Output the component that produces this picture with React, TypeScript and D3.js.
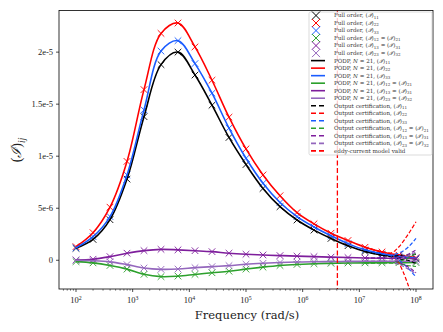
import * as d3 from 'd3';
import React, { useRef, useEffect } from 'react';

// frequencies of the full order / POD snapshots (rad/s)
const freqs = [100, 200, 398, 794, 1585, 3162, 6310, 12589, 25119, 50119, 1e5, 199526,
  398107, 794328, 1584893, 3162278, 6309573, 12589254, 25118864, 50118723, 1e8];

// tensor coefficients, in units of 1e-6
const i11 = [1.15, 2.0, 3.9, 7.8, 13.8, 18.8, 20.0, 17.8, 14.9, 11.8, 9.2, 6.9, 5.15, 3.87, 2.9, 2.1, 1.4, 0.85, 0.5, 0.3, 0.15];
const i22 = [1.31, 2.65, 5.1, 9.5, 16.4, 21.8, 22.8, 20.5, 17.3, 13.75, 10.7, 8.2, 6.2, 4.58, 3.5, 2.6, 1.9, 1.25, 0.8, 0.5, 0.25];
const i33 = [1.2, 2.27, 4.2, 8.2, 14.45, 20.1, 21.1, 18.9, 16.05, 12.7, 9.8, 7.4, 5.55, 4.2, 3.2, 2.35, 1.6, 1.0, 0.62, 0.38, 0.2];
const i12 = [-0.13, -0.25, -0.5, -0.85, -1.35, -1.57, -1.52, -1.36, -1.2, -1.05, -0.85, -0.66, -0.5, -0.4, -0.33, -0.29, -0.26, -0.25, -0.24, -0.23, -0.22];
const i13 = [0.03, 0.1, 0.35, 0.68, 0.93, 1.05, 1.0, 0.92, 0.83, 0.68, 0.58, 0.51, 0.45, 0.4, 0.35, 0.3, 0.26, 0.22, 0.2, 0.18, 0.15];
const i23 = [0.0, -0.04, -0.15, -0.42, -0.74, -0.87, -0.84, -0.71, -0.61, -0.51, -0.38, -0.29, -0.22, -0.17, -0.14, -0.12, -0.11, -0.1, -0.1, -0.1, -0.1];

// output certification bounds (upper / lower), 1e-6
const certFreqs = [12589254, 25118864, 35481339, 50118723, 70794578, 1e8];
const cert11 = [[0.85, 0.5, 0.4, 0.45, 0.5, 0.6], [0.85, 0.5, 0.35, 0.15, 0.0, -0.3]];
const cert22 = [[1.25, 0.8, 0.7, 1.3, 2.4, 3.7], [1.25, 0.8, 0.55, -0.3, -2.2, -4.8]];
const cert33 = [[1.0, 0.62, 0.5, 0.7, 1.2, 2.1], [1.0, 0.62, 0.45, 0.0, -0.7, -1.6]];
const cert12 = [[-0.25, -0.24, -0.23, -0.1, 0.2, 0.67], [-0.25, -0.24, -0.25, -0.35, -0.5, -0.6]];
const cert13 = [[0.22, 0.2, 0.19, 0.3, 0.55, 1.0], [0.22, 0.2, 0.15, -0.2, -0.6, -1.2]];
const cert23 = [[-0.1, -0.1, -0.1, 0.1, 0.4, 0.8], [-0.1, -0.1, -0.12, -0.4, -0.8, -1.3]];

const eddyLimit = 4.1e6;

const compSubs = [['11'], ['22'], ['33'], ['12', '21'], ['13', '31'], ['23', '32']];
const compColors = ['#000000', '#ff0000', '#1a5cff', '#2ca02c', '#7e1e9c', '#9467bd'];
const compValues = [i11, i22, i33, i12, i13, i23];
const compCert = [cert11, cert22, cert33, cert12, cert13, cert23];

const yTicks = [0, 5e-6, 1e-5, 1.5e-5, 2e-5];
const yTickLabels = ['0', '5e-6', '1e-5', '1.5e-5', '2e-5'];
const xTickExps = [2, 3, 4, 5, 6, 7, 8];

const W = 443, H = 332;
const serif = "'Liberation Serif', 'DejaVu Serif', serif";
const wideSerif = "'DejaVu Serif', serif";

function App() {
  const svgRef = useRef<SVGSVGElement>(null);

  useEffect(() => {
    const svg = d3.select(svgRef.current);
    svg.selectAll('*').remove();

    const x = d3.scaleLog().domain([10 ** 1.7, 10 ** 8.3]).range([59, 433]);
    const y = d3.scaleLinear().domain([-2.76e-6, 2.4e-5]).range([289, 10.5]);
    const [x0, x1] = x.range();
    const [y0, y1] = y.range();

    svg.append('defs').append('clipPath').attr('id', 'plotclip')
      .append('rect').attr('x', x0).attr('y', y1).attr('width', x1 - x0).attr('height', y0 - y1);

    const plot = svg.append('g').attr('clip-path', 'url(#plotclip)');

    const line = d3.line<number>()
      .x((_, k) => x(freqs[k]))
      .y(v => y(v * 1e-6))
      .curve(d3.curveCatmullRom.alpha(0.5));

    // full order markers
    compValues.forEach((vals, c) => {
      vals.forEach((v, k) => {
        const cx = x(freqs[k]), cy = y(v * 1e-6), s = 3.3;
        plot.append('path')
          .attr('d', `M${cx - s},${cy - s}L${cx + s},${cy + s}M${cx - s},${cy + s}L${cx + s},${cy - s}`)
          .attr('stroke', compColors[c]).attr('stroke-width', 0.9).attr('fill', 'none');
      });
    });

    // PODP lines
    compValues.forEach((vals, c) => {
      plot.append('path').datum(vals).attr('d', line)
        .attr('fill', 'none').attr('stroke', compColors[c]).attr('stroke-width', 1.6);
    });

    // output certification
    const certLine = d3.line<number>()
      .x((_, k) => x(certFreqs[k]))
      .y(v => y(v * 1e-6))
      .curve(d3.curveMonotoneX);
    compCert.forEach((bounds, c) => {
      bounds.forEach(b => {
        plot.append('path').datum(b).attr('d', certLine)
          .attr('fill', 'none').attr('stroke', compColors[c]).attr('stroke-width', 1.2)
          .attr('stroke-dasharray', '4,2');
      });
    });

    // eddy current limit
    plot.append('line')
      .attr('x1', x(eddyLimit)).attr('x2', x(eddyLimit)).attr('y1', y1).attr('y2', y0)
      .attr('stroke', '#ff0000').attr('stroke-width', 1.3).attr('stroke-dasharray', '5,2.5');

    // frame
    svg.append('rect').attr('x', x0).attr('y', y1).attr('width', x1 - x0).attr('height', y0 - y1)
      .attr('fill', 'none').attr('stroke', '#000').attr('stroke-width', 0.8);

    // y axis
    yTicks.forEach((t, k) => {
      svg.append('line').attr('x1', x0 - 3).attr('x2', x0).attr('y1', y(t)).attr('y2', y(t))
        .attr('stroke', '#000').attr('stroke-width', 0.7);
      svg.append('text').attr('x', x0 - 6).attr('y', y(t) + 2.8)
        .attr('text-anchor', 'end').attr('font-family', serif).attr('font-size', 8.5)
        .attr('fill', '#222').text(yTickLabels[k]);
    });

    // x axis, major + minor ticks
    for (let e = 1; e <= 8; e++) {
      for (let m = 1; m <= 9; m++) {
        const f = m * 10 ** e;
        if (f < x.domain()[0] || f > x.domain()[1]) continue;
        const len = m === 1 ? 3 : 1.7;
        svg.append('line').attr('x1', x(f)).attr('x2', x(f)).attr('y1', y0).attr('y2', y0 + len)
          .attr('stroke', '#000').attr('stroke-width', m === 1 ? 0.7 : 0.5);
      }
    }
    xTickExps.forEach(e => {
      const t = svg.append('text').attr('x', x(10 ** e)).attr('y', 303)
        .attr('text-anchor', 'middle').attr('font-family', serif).attr('font-size', 8.5)
        .attr('fill', '#222');
      t.append('tspan').text('10');
      t.append('tspan').attr('dy', -3.5).attr('font-size', 5.8).text(String(e));
    });

    // axis labels
    svg.append('text').attr('x', (x0 + x1) / 2 + 1).attr('y', 319)
      .attr('text-anchor', 'middle').attr('font-family', wideSerif).attr('font-size', 11.5)
      .attr('fill', '#222').text('Frequency (rad/s)');
    const yl = svg.append('text').attr('transform', 'translate(21,150) rotate(-90)')
      .attr('text-anchor', 'middle').attr('font-family', serif).attr('font-size', 14)
      .attr('fill', '#222');
    yl.append('tspan').text('(');
    yl.append('tspan').attr('font-style', 'italic').text('ℐ');
    yl.append('tspan').text(')');
    yl.append('tspan').attr('dy', 3.5).attr('font-size', 9.5).attr('font-style', 'italic').text('ij');

    // legend
    const lg = svg.append('g');
    lg.append('rect').attr('x', 309).attr('y', 12).attr('width', 123).attr('height', 143)
      .attr('rx', 1.5).attr('fill', '#fff').attr('fill-opacity', 0.8)
      .attr('stroke', '#ccc').attr('stroke-width', 0.7);
    const rowY = (r: number) => 15.5 + r * 7.52;
    const writeLabel = (r: number, prefix: string, subs: string[]) => {
      const t = lg.append('text').attr('x', 334).attr('y', rowY(r) + 1.9)
        .attr('font-family', wideSerif).attr('font-size', 5.6).attr('fill', '#333');
      if (prefix.startsWith('PODP')) {
        t.append('tspan').text('PODP, ');
        t.append('tspan').attr('font-style', 'italic').text('N');
        t.append('tspan').text(' = 21, ');
      } else {
        t.append('tspan').text(prefix + ', ');
      }
      subs.forEach((s, k) => {
        t.append('tspan').attr('dy', k > 0 ? -1.3 : 0).text(k > 0 ? ' = (' : '(');
        t.append('tspan').attr('font-style', 'italic').text('ℐ');
        t.append('tspan').text(')');
        t.append('tspan').attr('dy', 1.3).attr('font-size', 4).text(s);
      });
    };
    compSubs.forEach((subs, c) => {
      const cy = rowY(c), cx = 316, s = 4;
      lg.append('path')
        .attr('d', `M${cx - s},${cy - s}L${cx + s},${cy + s}M${cx - s},${cy + s}L${cx + s},${cy - s}`)
        .attr('stroke', compColors[c]).attr('stroke-width', 1).attr('fill', 'none');
      writeLabel(c, 'Full order', subs);
    });
    compSubs.forEach((subs, c) => {
      const cy = rowY(c + 6);
      lg.append('line').attr('x1', 311).attr('x2', 325).attr('y1', cy).attr('y2', cy)
        .attr('stroke', compColors[c]).attr('stroke-width', 1.6);
      writeLabel(c + 6, 'PODP', subs);
    });
    compSubs.forEach((subs, c) => {
      const cy = rowY(c + 12);
      lg.append('line').attr('x1', 311).attr('x2', 325).attr('y1', cy).attr('y2', cy)
        .attr('stroke', compColors[c]).attr('stroke-width', 1.6).attr('stroke-dasharray', '5,3');
      writeLabel(c + 12, 'Output certification', subs);
    });
    const ey = rowY(18);
    lg.append('line').attr('x1', 311).attr('x2', 325).attr('y1', ey).attr('y2', ey)
      .attr('stroke', '#ff0000').attr('stroke-width', 1.6).attr('stroke-dasharray', '5,3');
    lg.append('text').attr('x', 334).attr('y', ey + 1.9)
      .attr('font-family', wideSerif).attr('font-size', 5.6).attr('fill', '#333')
      .text('eddy-current model valid');
  });

  return (
    <svg ref={svgRef} width={W} height={H}
      style={{ position: 'absolute', left: 0, top: 0, background: '#fff' }} />
  );
}

export default App;
